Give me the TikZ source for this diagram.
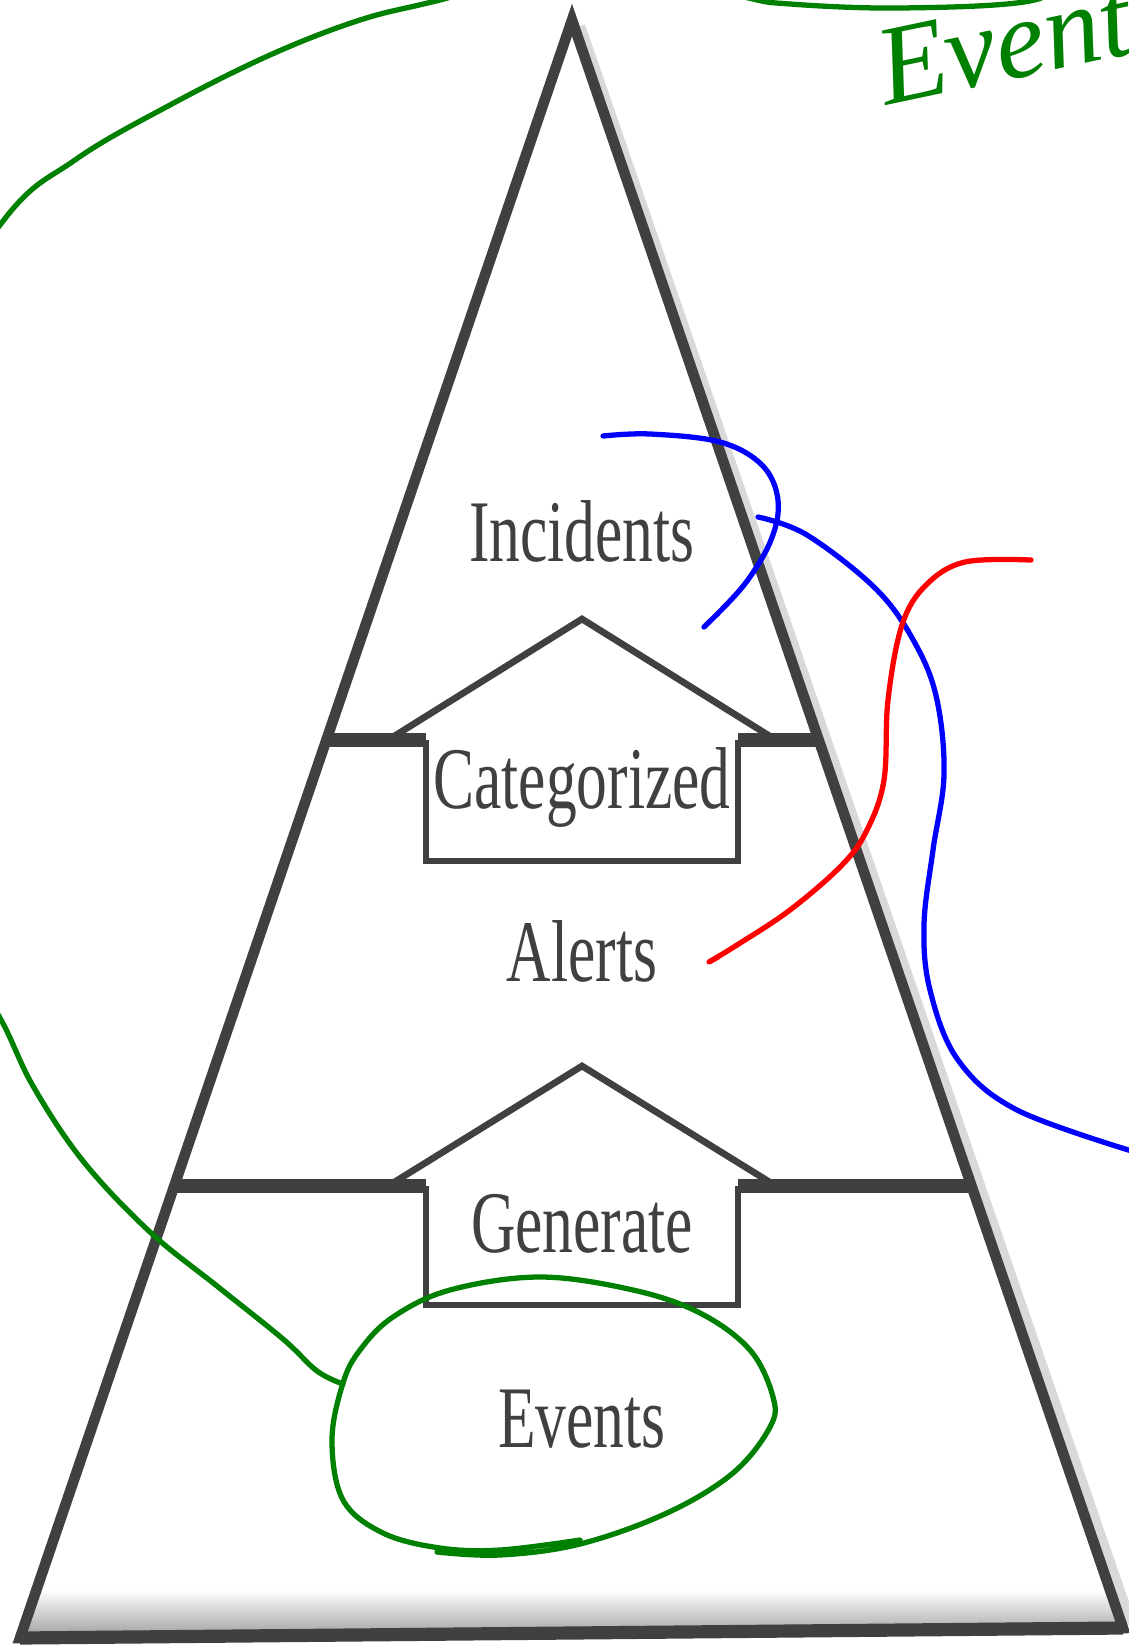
\documentclass[tikz,border=0pt]{standalone}
\usepackage{fontspec}
\setmainfont{Liberation Serif}
\newfontfamily\levelfont[FakeStretch=0.7]{Liberation Serif}
\usetikzlibrary{calc}

\definecolor{inkgray}{RGB}{64,64,64}
\definecolor{pengreen}{RGB}{0,128,0}
\definecolor{penblue}{RGB}{0,0,255}
\definecolor{penred}{RGB}{255,0,0}

\tikzset{
	frame/.style={draw=inkgray, line width=6pt, line join=miter},
	divider/.style={draw=inkgray, line width=7.5pt},
	arrowline/.style={draw=inkgray, line width=3.8pt, line join=miter},
	level/.style={text=inkgray, font=\levelfont\fontsize{50}{60}\selectfont, inner sep=0pt, anchor=base},
	pen/.style={line width=3pt, line cap=round, line join=round},
}

\begin{document}
\begin{tikzpicture}[x=0.02cm, y=-0.02cm]
		
		\useasboundingbox (0,0) rectangle (1129,1650);
		\clip (0,0) rectangle (1129,1650);
		
		\coordinate (top) at (572,20);
		\coordinate (bl) at (20,1638);
		\coordinate (br) at (1123,1628);
		
		% grey shade along the base and the right side
		\begin{scope}
			\clip (top) -- (bl) -- (br) -- cycle;
			\shade[top color=white, bottom color=black!40] (0,1590) rectangle (1129,1640);
		\end{scope}
		\draw[black!15, line width=6pt] ($(top)+(8,6)$) -- ($(br)+(8,-4)$);
		
		% the two dividers, cut by the arrow boxes
		\begin{scope}
			\clip (top) -- (bl) -- (br) -- cycle;
			\draw[divider] (0,740) -- (426,740) (738,740) -- (1129,740);
			\draw[divider] (0,1186) -- (426,1186) (738,1186) -- (1129,1186);
		\end{scope}
		
		\draw[frame] (top) -- (bl) -- (br) -- cycle;
		\draw[frame, line width=7.5pt] (bl) -- (br);
		
		% upper arrow
		\draw[arrowline] (388,740) -- (582,619) -- (776,740);
		\draw[arrowline] (426,740) -- (426,861) -- (738,861) -- (738,740);
		
		% lower arrow
		\draw[arrowline] (388,1186) -- (582,1066) -- (776,1186);
		\draw[arrowline] (426,1186) -- (426,1305) -- (738,1305) -- (738,1186);
		
		\node[level] (incidents) at (582,561) {Incidents};
		\node[level] (categorized) at (582,808) {Categorized};
		\node[level] (alerts) at (582,981) {Alerts};
		\node[level] (generate) at (582,1252) {Generate};
		\node[level] (events) at (582,1447) {Events};
		
		% hand notes
		\node[text=pengreen, font=\itshape\fontsize{64}{70}\selectfont, inner sep=0pt,
			anchor=base west, rotate=12] (note) at (886,106) {Events};
		
		\draw[pen, pengreen] plot[smooth, tension=0.6] coordinates {
			(1075,-25) (1030,1) (900,8) (790,4) (740,-4) (600,-40) (440,0) (360,20)
			(270,55) (170,105) (75,160) (0,225) (-120,420) (-220,650) (-160,880) (-40,960) (0,1018) (33,1086)
			(83,1161) (150,1232) (217,1286) (283,1339) (317,1371) (343,1384)};
		\draw[pen, pengreen] plot[smooth, tension=0.6] coordinates {
			(580,1540) (500,1550) (440,1548) (383,1533) (343,1500) (332,1440) (343,1383)
			(360,1350) (393,1317) (450,1290) (540,1277) (633,1290) (700,1313) (750,1350)
			(773,1397) (770,1427) (733,1473) (667,1513) (580,1544) (500,1555) (437,1552)};
		
		\draw[pen, penblue] plot[smooth, tension=0.6] coordinates {
			(603,436) (650,434) (720,442) (762,465) (778,500) (771,540) (744,585) (704,627)};
		\draw[pen, penblue] plot[smooth, tension=0.6] coordinates {
			(758,517) (807,535) (877,590) (916,645) (937,700) (944,775) (933,850)
			(924,925) (930,990) (958,1060) (1017,1110) (1135,1152)};
		
		\draw[pen, penred] plot[smooth, tension=0.6] coordinates {
			(1031,560) (965,562) (926,585) (902,625) (888,700) (884,780) (867,830)
			(842,865) (790,910) (737,945) (709,962) (718,957)};
		
	\end{tikzpicture}
\end{document}
